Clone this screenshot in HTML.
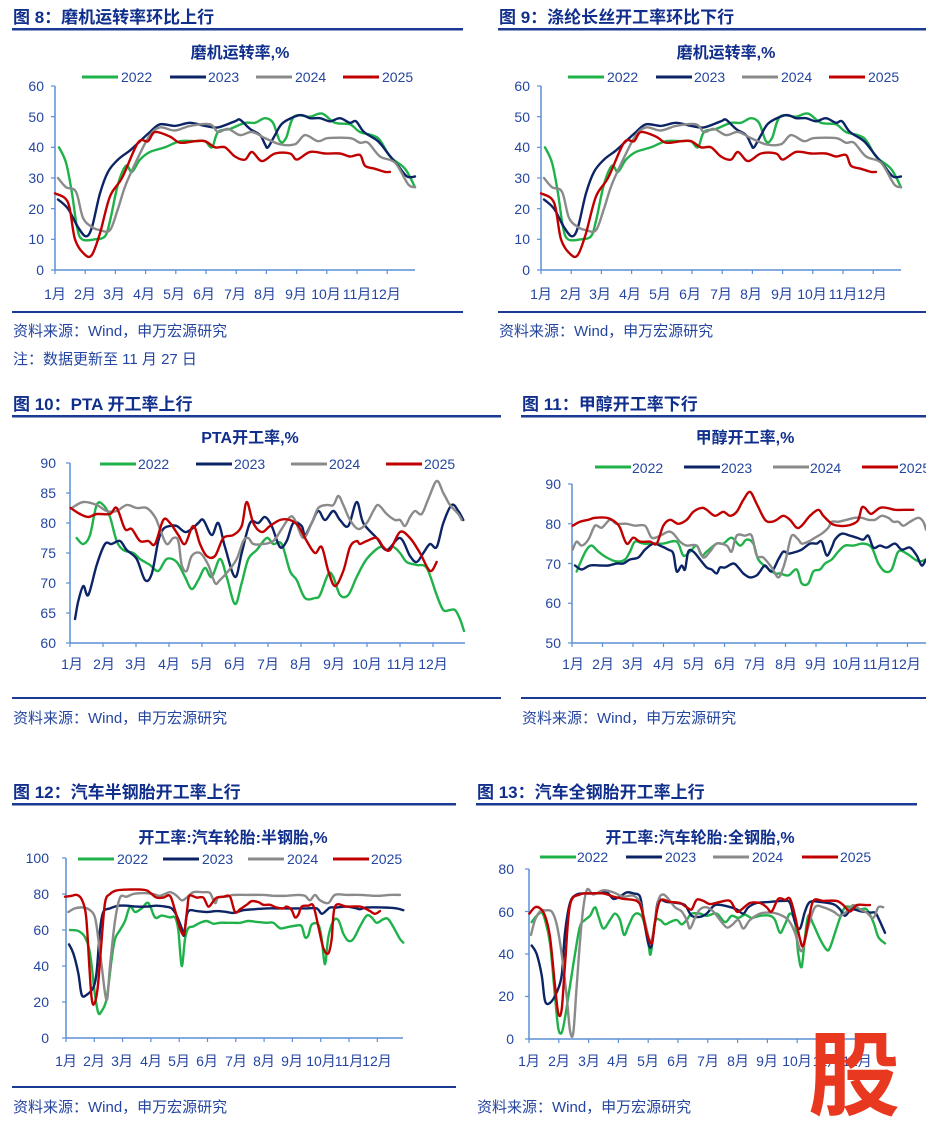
<!DOCTYPE html>
<html><head><meta charset="utf-8"><style>
html,body{margin:0;padding:0;background:#fff;}
svg{display:block;font-family:"Liberation Sans","Noto Sans CJK SC",sans-serif;}
.h{font-size:17px;font-weight:bold;fill:#102f8c;}
.ct{font-size:16px;font-weight:bold;fill:#102f8c;text-anchor:middle;}
.lg{font-size:14px;fill:#2446a0;}
.yt{font-size:14px;fill:#2446a0;text-anchor:end;}
.mt{font-size:14px;fill:#2446a0;text-anchor:middle;}
.src{font-size:15px;fill:#2446a0;}
</style></head><body>
<svg id="s" width="926" height="1135" viewBox="0 0 926 1135">
<!-- Fig 8 -->
<text class="h" x="13" y="23">图 8：磨机运转率环比上行</text>
<rect x="12" y="28" width="451" height="2.5" fill="#1a3a93"/>
<text class="ct" x="240" y="58">磨机运转率,%</text>
<text class="lg" x="121" y="82">2022</text><text class="lg" x="208" y="82">2023</text><text class="lg" x="295" y="82">2024</text><text class="lg" x="382" y="82">2025</text>
<text class="yt" x="44" y="91">60</text><text class="yt" x="44" y="122">50</text><text class="yt" x="44" y="152">40</text><text class="yt" x="44" y="183">30</text><text class="yt" x="44" y="214">20</text><text class="yt" x="44" y="244">10</text><text class="yt" x="44" y="275">0</text>
<g id="m8"></g>
<text class="mt" x="55" y="299">1月</text><text class="mt" x="85" y="299">2月</text><text class="mt" x="114" y="299">3月</text><text class="mt" x="144" y="299">4月</text><text class="mt" x="174" y="299">5月</text><text class="mt" x="204" y="299">6月</text><text class="mt" x="235" y="299">7月</text><text class="mt" x="265" y="299">8月</text><text class="mt" x="296" y="299">9月</text><text class="mt" x="326" y="299">10月</text><text class="mt" x="357" y="299">11月</text><text class="mt" x="386" y="299">12月</text>
<rect x="12" y="311" width="451" height="2" fill="#1a3a93"/>
<text class="src" x="13" y="336">资料来源：Wind，申万宏源研究</text>
<text class="src" x="13" y="364">注：数据更新至 11 月 27 日</text>

<!-- Fig 9 -->
<text class="h" x="499" y="23">图 9：涤纶长丝开工率环比下行</text>
<rect x="498" y="28" width="428" height="2.5" fill="#1a3a93"/>
<text class="ct" x="726" y="58">磨机运转率,%</text>
<text class="lg" x="607" y="82">2022</text><text class="lg" x="694" y="82">2023</text><text class="lg" x="781" y="82">2024</text><text class="lg" x="868" y="82">2025</text>
<text class="yt" x="530" y="91">60</text><text class="yt" x="530" y="122">50</text><text class="yt" x="530" y="152">40</text><text class="yt" x="530" y="183">30</text><text class="yt" x="530" y="214">20</text><text class="yt" x="530" y="244">10</text><text class="yt" x="530" y="275">0</text>
<text class="mt" x="541" y="299">1月</text><text class="mt" x="571" y="299">2月</text><text class="mt" x="600" y="299">3月</text><text class="mt" x="630" y="299">4月</text><text class="mt" x="660" y="299">5月</text><text class="mt" x="690" y="299">6月</text><text class="mt" x="721" y="299">7月</text><text class="mt" x="751" y="299">8月</text><text class="mt" x="782" y="299">9月</text><text class="mt" x="812" y="299">10月</text><text class="mt" x="843" y="299">11月</text><text class="mt" x="872" y="299">12月</text>
<rect x="498" y="311" width="428" height="2" fill="#1a3a93"/>
<text class="src" x="499" y="336">资料来源：Wind，申万宏源研究</text>

<!-- Fig 10 -->
<text class="h" x="13" y="410">图 10：PTA 开工率上行</text>
<rect x="12" y="415" width="489" height="2.5" fill="#1a3a93"/>
<text class="ct" x="250" y="443">PTA开工率,%</text>
<text class="lg" x="138" y="469">2022</text><text class="lg" x="234" y="469">2023</text><text class="lg" x="329" y="469">2024</text><text class="lg" x="424" y="469">2025</text>
<text class="yt" x="56" y="468">90</text><text class="yt" x="56" y="498">85</text><text class="yt" x="56" y="528">80</text><text class="yt" x="56" y="558">75</text><text class="yt" x="56" y="588">70</text><text class="yt" x="56" y="618">65</text><text class="yt" x="56" y="648">60</text>
<text class="mt" x="72" y="669">1月</text><text class="mt" x="104" y="669">2月</text><text class="mt" x="136" y="669">3月</text><text class="mt" x="169" y="669">4月</text><text class="mt" x="202" y="669">5月</text><text class="mt" x="235" y="669">6月</text><text class="mt" x="268" y="669">7月</text><text class="mt" x="301" y="669">8月</text><text class="mt" x="334" y="669">9月</text><text class="mt" x="367" y="669">10月</text><text class="mt" x="401" y="669">11月</text><text class="mt" x="433" y="669">12月</text>
<rect x="12" y="697" width="489" height="2" fill="#1a3a93"/>
<text class="src" x="13" y="723">资料来源：Wind，申万宏源研究</text>

<!-- Fig 11 -->
<text class="h" x="522" y="410">图 11：甲醇开工率下行</text>
<rect x="521" y="415" width="405" height="2.5" fill="#1a3a93"/>
<text class="ct" x="745" y="443">甲醇开工率,%</text>
<text class="lg" x="632" y="473">2022</text><text class="lg" x="721" y="473">2023</text><text class="lg" x="810" y="473">2024</text><text class="lg" x="899" y="473">2025</text>
<text class="yt" x="561" y="489">90</text><text class="yt" x="561" y="529">80</text><text class="yt" x="561" y="569">70</text><text class="yt" x="561" y="608">60</text><text class="yt" x="561" y="648">50</text>
<text class="mt" x="573" y="669">1月</text><text class="mt" x="603" y="669">2月</text><text class="mt" x="633" y="669">3月</text><text class="mt" x="664" y="669">4月</text><text class="mt" x="694" y="669">5月</text><text class="mt" x="725" y="669">6月</text><text class="mt" x="755" y="669">7月</text><text class="mt" x="786" y="669">8月</text><text class="mt" x="816" y="669">9月</text><text class="mt" x="847" y="669">10月</text><text class="mt" x="877" y="669">11月</text><text class="mt" x="906" y="669">12月</text>
<rect x="521" y="697" width="405" height="2" fill="#1a3a93"/>
<text class="src" x="522" y="723">资料来源：Wind，申万宏源研究</text>

<!-- Fig 12 -->
<text class="h" x="13" y="798">图 12：汽车半钢胎开工率上行</text>
<rect x="12" y="803" width="444" height="2.5" fill="#1a3a93"/>
<text class="ct" x="233" y="843">开工率:汽车轮胎:半钢胎,%</text>
<text class="lg" x="117" y="864">2022</text><text class="lg" x="202" y="864">2023</text><text class="lg" x="287" y="864">2024</text><text class="lg" x="371" y="864">2025</text>
<text class="yt" x="49" y="863">100</text><text class="yt" x="49" y="899">80</text><text class="yt" x="49" y="935">60</text><text class="yt" x="49" y="971">40</text><text class="yt" x="49" y="1007">20</text><text class="yt" x="49" y="1043">0</text>
<text class="mt" x="66" y="1066">1月</text><text class="mt" x="94" y="1066">2月</text><text class="mt" x="122" y="1066">3月</text><text class="mt" x="151" y="1066">4月</text><text class="mt" x="179" y="1066">5月</text><text class="mt" x="207" y="1066">6月</text><text class="mt" x="236" y="1066">7月</text><text class="mt" x="264" y="1066">8月</text><text class="mt" x="292" y="1066">9月</text><text class="mt" x="321" y="1066">10月</text><text class="mt" x="349" y="1066">11月</text><text class="mt" x="377" y="1066">12月</text>
<rect x="12" y="1086" width="444" height="2" fill="#1a3a93"/>
<text class="src" x="13" y="1112">资料来源：Wind，申万宏源研究</text>

<!-- Fig 13 -->
<text class="h" x="477" y="798">图 13：汽车全钢胎开工率上行</text>
<rect x="476" y="803" width="441" height="2.5" fill="#1a3a93"/>
<text class="ct" x="700" y="843">开工率:汽车轮胎:全钢胎,%</text>
<text class="lg" x="577" y="862">2022</text><text class="lg" x="665" y="862">2023</text><text class="lg" x="752" y="862">2024</text><text class="lg" x="840" y="862">2025</text>
<text class="yt" x="514" y="874">80</text><text class="yt" x="514" y="917">60</text><text class="yt" x="514" y="959">40</text><text class="yt" x="514" y="1001">20</text><text class="yt" x="514" y="1044">0</text>
<text class="mt" x="529" y="1066">1月</text><text class="mt" x="559" y="1066">2月</text><text class="mt" x="589" y="1066">3月</text><text class="mt" x="618" y="1066">4月</text><text class="mt" x="648" y="1066">5月</text><text class="mt" x="678" y="1066">6月</text><text class="mt" x="708" y="1066">7月</text><text class="mt" x="738" y="1066">8月</text><text class="mt" x="767" y="1066">9月</text><text class="mt" x="797" y="1066">10月</text><text class="mt" x="827" y="1066">11月</text><text class="mt" x="857" y="1066">12月</text>
<text class="src" x="477" y="1112">资料来源：Wind，申万宏源研究</text>
<text x="808" y="1108" font-size="92" font-weight="bold" fill="#e8381f" font-family="'Noto Sans CJK SC',sans-serif">股</text>
</svg>
<script>
var NS="http://www.w3.org/2000/svg",S=document.getElementById('s');
var C=['#1fb24a','#0c2466','#8a8a8a','#c00000'];
function el(t,a){var e=document.createElementNS(NS,t);for(var k in a)e.setAttribute(k,a[k]);S.insertBefore(e,S.lastElementChild);return e;}
function path(pts){var d='M'+pts[0][0]+','+pts[0][1];for(var i=0;i<pts.length-1;i++){var p0=pts[i-1]||pts[i],p1=pts[i],p2=pts[i+1],p3=pts[i+2]||p2;
d+=' C'+(p1[0]+(p2[0]-p0[0])/6).toFixed(1)+','+(p1[1]+(p2[1]-p0[1])/6).toFixed(1)+' '+(p2[0]-(p3[0]-p1[0])/6).toFixed(1)+','+(p2[1]-(p3[1]-p1[1])/6).toFixed(1)+' '+p2[0].toFixed(1)+','+p2[1].toFixed(1);}return d;}
function chart(o){
 // axes
 el('line',{x1:o.ax,y1:o.yTop,x2:o.ax,y2:o.yBot,stroke:'#5b8fd6','stroke-width':1.5});
 el('line',{x1:o.ax,y1:o.yBot,x2:o.axEnd,y2:o.yBot,stroke:'#5b8fd6','stroke-width':1.5});
 for(var i=0;i<o.ny;i++){var y=o.yTop+(o.yBot-o.yTop)*i/(o.ny-1);el('line',{x1:o.ax-4,y1:y,x2:o.ax,y2:y,stroke:'#5b8fd6','stroke-width':1.2});}
 for(var i=0;i<12;i++){var x=o.mx0+o.mdx*i;el('line',{x1:x,y1:o.yBot,x2:x,y2:o.yBot+4,stroke:'#5b8fd6','stroke-width':1.2});}
 // legend
 for(var i=0;i<4;i++)el('line',{x1:o.lg[i],y1:o.ly,x2:o.lg[i]+36,y2:o.ly,stroke:C[i],'stroke-width':3});
 var ppu=(o.yBot-o.yTop)/(o.vTop-o.vBot);
 for(var s=0;s<4;s++){var d=o.d[s];var pts=[];for(var i=0;i<d.length;i+=2){var x=o.px?d[i]:o.ox+d[i]/3;pts.push([x+(o.dx||0),o.yTop+(o.vTop-d[i+1])*ppu]);}
  el('path',{d:path(pts),fill:'none',stroke:C[s],'stroke-width':2.4,'stroke-linejoin':'round','stroke-linecap':'round'});}
}
var d8=[
[59,40,66,35,72,25,77,14,82,10,95,10,105,11,110,16,118,28,126,34,132,32,140,36,150,38.5,165,40,180,42,195,42,205,42,212,40,218,45,230,46,245,48,255,48,265,49.5,273,48,280,42,286,43,294,50,310,50,322,51,335,48,350,47.5,360,45,378,43,390,37,405,33,415,27],
[58,23,68,20,78,14,86,11,92,14,100,25,108,32,118,36,130,39,140,42,150,45,160,47.5,175,47,190,48,205,47,218,46.5,235,48.5,240,49,250,46,260,44,265,41,268,40,275,44,283,48,300,50.5,310,49.5,320,49.5,330,48.5,340,49.5,350,48,356,48.5,364,45,378,42,388,38,398,34,407,30.5,415,30.5],
[58,30,66,27,76,25.5,83,17,92,14,100,13,110,13,118,20,126,28,140,38,150,44,160,46.5,175,45.5,190,47,210,47.5,218,45,228,46,240,44,252,45,265,43,280,41,295,41,305,44,318,42,328,43,350,43,360,41.5,368,41.5,380,37,395,35,408,28,415,27],
[55,25,68,22,75,10,85,5,92,5,100,12,110,24,122,30,138,41.5,148,42,155,45,170,43.5,180,41.5,195,42,205,42,215,40,225,40,235,37,245,36,252,38.5,262,35.5,275,38,290,38,297,36,310,38.5,325,38,340,38,350,37,360,37.5,365,34,375,33,385,32,390,32]];
chart({px:1,ax:55,axEnd:415,yTop:86,yBot:270,vTop:60,vBot:0,ny:7,mx0:55,mdx:30.2,lg:[82,170,256,343],ly:77,d:d8});
chart({px:1,dx:486,ax:541,axEnd:901,yTop:86,yBot:270,vTop:60,vBot:0,ny:7,mx0:541,mdx:30.2,lg:[568,656,742,829],ly:77,d:d8});
chart({ox:0,ax:70,axEnd:465,yTop:463,yBot:643,vTop:90,vBot:60,ny:7,mx0:70,mdx:33,lg:[100,196,291,386],ly:464,d:[
[230,77.5,250,76.5,270,78,290,83,310,83,330,81,350,77,370,75.5,400,75,420,74,450,73,475,72,500,74,530,73.5,555,71,575,69,595,70.5,615,72.5,635,71,660,74,680,71,705,66.5,725,70,745,74,770,75.5,800,77.5,820,76.5,845,76.5,870,72,890,70.5,915,67.5,945,67.5,960,68,985,71.5,1000,71,1020,68,1045,68,1070,71,1100,74,1140,76,1160,75.5,1180,76,1200,75,1220,73.5,1250,73,1280,72.5,1310,68,1330,65.5,1350,65.5,1365,65.5,1380,64,1392,62],
[225,64,235,67,250,69.5,265,68,290,73,315,76.5,335,76.5,360,77,380,75.5,410,74,435,70.5,455,71.5,475,77,490,79,510,79.5,530,79.5,555,78.5,575,79,595,80,610,80.5,635,78,655,80,675,76,705,71,725,75,750,80,775,80,795,81,815,79.5,840,76,860,77,880,80,905,79.5,915,78,935,80,955,82,975,80.5,1000,82,1020,80.5,1045,79.5,1070,83.5,1090,80,1130,77.5,1160,75.5,1200,77.5,1230,74.5,1250,73.5,1270,75,1290,76.5,1310,76,1330,80,1355,83,1375,82,1390,80.5],
[215,82.5,250,83.5,290,83,320,82,350,82,380,83,410,82.5,440,82.5,465,81,480,79,500,76.5,520,77.5,535,77,545,73,560,72,575,74.5,600,75,625,73,645,70,660,70.5,685,72,710,74,730,77,745,77.5,760,76.5,790,76.5,820,77,845,79,870,81,885,80.5,910,77.5,935,80,955,82.5,980,83,1000,83,1015,84.5,1030,83,1050,80.5,1075,79,1100,80,1120,82,1135,83,1160,81.5,1185,80.5,1200,80.5,1215,79.5,1230,81,1245,82,1265,81.5,1285,84,1310,87,1330,85,1350,83,1375,81.5,1385,80.5],
[212,82.5,240,81.5,265,81,290,81.5,330,81.5,350,82.5,375,79,395,79,420,77,445,77,465,76.5,490,80.5,510,80,535,78,555,76.5,580,79.5,600,76.5,620,74.5,645,74.5,670,77.5,700,78,725,79.5,740,83.5,760,80,785,78.5,810,79.5,840,80.5,870,80.5,895,79.5,920,77,945,75,965,76,985,72,1005,69.5,1030,72,1050,76,1070,77,1080,76.5,1100,77,1130,77.5,1150,76,1170,75.5,1200,78.5,1230,77.5,1260,75,1290,72,1310,73.5]]});
chart({ox:520,ax:572,axEnd:926,yTop:484,yBot:643,vTop:90,vBot:50,ny:5,mx0:572,mdx:30.5,lg:[595,684,773,862],ly:467,d:[
[170,68,185,71,200,73.5,215,74.5,235,73,260,71.5,290,70.5,315,71,330,73,345,75.5,370,75,400,75,430,75,470,75.5,490,72,510,73,530,74.5,545,72,560,73,590,75,610,75,635,76.5,660,74.5,680,76,700,75,715,71,740,69,765,67.5,780,67.5,805,67,830,68.5,845,65,865,65,880,68,900,68.5,915,70,935,71,955,73,975,74.5,1000,74.5,1030,75,1055,74,1075,70,1095,68,1115,68.5,1135,73,1160,72.5,1185,71,1200,70.5,1218,71],
[165,69.5,185,68.5,210,69.5,240,69.5,265,69.5,290,70,310,70,330,71,355,71.5,375,73.5,400,75,420,74.5,445,73.5,460,72.5,470,68,485,69.5,495,68.5,505,73,520,73,540,71,560,69,575,68.5,590,67.5,600,69,615,69,640,70,655,69,670,67.5,690,66.5,710,67,720,68,735,69.5,755,68,775,71,790,73,805,72.5,830,73,845,73.5,870,75,890,75,905,75.5,920,72,935,74,945,76,965,77.5,990,77,1010,76.5,1030,76,1045,77,1060,74,1080,74.5,1100,74,1125,75,1145,73.5,1170,74,1190,72,1205,69.5,1218,71],
[158,73.5,170,75.5,185,74.5,205,76,225,79.5,245,79,270,81,290,80,320,80,345,79.5,375,79.5,395,76.5,420,77,445,78,460,77.5,480,75.5,500,74.5,530,74.5,550,71.5,570,73,590,75,620,74.5,635,73,650,77,675,77,695,77,710,72,730,71.5,755,69,775,66.5,790,69,800,72,815,77,835,76,845,75,865,75.5,885,76.5,905,77.5,925,79,935,80.5,955,80.5,980,81,1005,81.5,1025,81.5,1045,81,1065,81,1085,82,1105,81.5,1120,80.5,1135,80.5,1150,79.5,1170,80.5,1195,81.5,1210,80.5,1218,78.5],
[158,79.5,180,80.5,205,81,225,81.5,260,81.5,285,80.5,300,79,320,75,340,76.5,360,75.5,390,75.5,410,75,430,79.5,450,81,475,80,500,81,520,83,545,84,560,83.5,585,82,610,83,630,82,650,83,670,86,690,88,710,85,735,81,755,80.5,770,81,790,82,810,81,830,79,845,79.5,870,82,895,83.5,910,82,935,80,955,79.5,980,79.5,1000,80,1015,81,1025,84,1035,84,1045,83,1055,82.5,1080,84,1100,84,1125,83.5,1150,83.5,1180,83.5]]});
chart({ox:0,ax:66,axEnd:403,yTop:858,yBot:1038,vTop:100,vBot:0,ny:6,mx0:66,mdx:28.3,lg:[78,163,248,333],ly:859,d:[
[210,60,235,59.5,255,56,270,47,285,24,295,14,305,15,320,22,335,44,345,55,360,60,375,65,390,73,405,70,425,72,445,75,465,67,485,68,510,67,525,67,535,60,545,40,555,55,565,61,580,62,600,64,620,65,640,63.5,660,64,680,64,700,64,720,64,745,65,770,64.5,800,64,820,64,840,61,860,61.5,890,62.5,905,62,915,56,925,57,935,63,955,63,965,55,975,41,985,56,1000,65,1015,65.5,1030,58,1045,54,1060,55,1080,62,1100,68,1115,67,1130,64,1150,66,1165,66,1185,60,1200,55,1210,53],
[207,52,220,47,235,36,245,24,260,24,280,28,290,37,300,60,310,70,330,72,355,73.5,380,73.5,410,73,440,73,470,73.5,495,73,515,72,530,68,545,61,552,57,560,68,570,71,590,70.5,620,70,650,70.5,680,70,700,69.5,730,71,760,71.5,800,72,840,72,880,72,920,72,950,72,965,69,980,71,990,72.5,1010,72.5,1040,73,1070,72,1080,71.5,1100,72.5,1150,72.5,1190,72,1210,71],
[205,70,225,72,250,72.5,270,71,285,67,295,55,305,40,315,25,322,22,330,40,345,65,360,78,380,78.5,400,80,430,80.5,460,80,480,79,510,81,530,79,545,76.5,560,78,580,81,610,81,630,80.5,645,75,655,78,680,78.5,700,79.5,740,79.5,790,79.5,820,79,860,79,895,79.5,915,79,930,76.5,945,79.5,960,76.5,985,75,1005,79.5,1040,79.5,1080,79.5,1120,79,1140,79,1170,79.5,1200,79.5],
[195,78.5,215,79,230,79.5,245,77,258,68,268,40,275,22,283,19,293,28,303,50,315,75,330,80,350,82,390,82.5,420,82.5,440,82,455,80,470,78,490,78,510,79,525,71,540,61,552,58,562,72,568,79,590,78,610,78,625,73,640,76,650,78,670,78.5,690,78.5,705,70,720,71.5,740,74,755,76,775,75.5,790,74,810,74,830,72.5,850,72,860,73,875,71,885,67,895,68.5,905,73,925,73.5,940,73.5,955,62,970,50,985,47,995,55,1005,73,1040,73,1080,73,1095,72,1110,70.5,1125,69,1140,70.5]]});
chart({ox:470,ax:529,axEnd:885,yTop:869,yBot:1039,vTop:80,vBot:0,ny:5,mx0:529,mdx:29.8,lg:[540,626,713,802],ly:857,d:[
[185,55,200,58,215,59.5,225,56,240,45,255,20,265,5,275,3,285,10,300,25,315,40,330,53,345,56,360,58,375,62,385,58,400,52,420,56,435,59,450,56,462,49,475,53,490,58,505,59,520,56,535,45,542,40,555,55,570,56,585,54,600,55,620,56,635,54,650,56,665,59,690,59,710,58,740,59,765,55,785,58,805,57,825,58.5,845,57,870,58,900,58,915,56,930,50,945,54,960,59,975,55,985,40,995,34,1005,48,1015,58,1030,54,1050,47,1070,42,1080,43,1095,50,1110,57,1125,62,1145,62,1170,61,1190,61,1210,55,1225,48,1245,45],
[185,44,200,40,215,30,225,18,240,17,260,22,275,30,285,50,300,64,320,68,350,68.5,380,68.5,410,69,430,66,450,67,470,69,490,68.5,510,67,520,58,535,45,545,44,555,55,565,65,590,64.5,620,64,645,63,665,58,690,57.5,710,59,735,63,770,62.5,800,61,820,59,835,62,860,64,900,64.5,940,65,960,64,975,55,990,52,1005,60,1020,64.5,1050,64.5,1090,63.5,1110,61,1125,58,1145,61,1175,60,1200,59.5,1215,59.5,1225,57,1245,50],
[183,49,195,56,210,60,225,60.5,245,60,260,54,275,40,290,20,300,4,310,3,320,25,335,55,350,70,370,68,400,70,430,69,460,67,490,67.5,510,64,525,55,540,46,550,50,565,65,580,68,600,65,615,62,635,60,650,56,660,52,675,57,690,61,710,62,730,60,750,56,770,52.5,785,53.5,805,56,820,52,840,56,870,59,900,59.5,930,58.5,955,56,975,50,990,42,1000,43,1015,53,1035,62,1060,62,1090,60,1110,58,1130,60,1150,63,1170,61,1190,59.5,1210,57,1225,62,1240,62],
[178,59,195,62,210,61.5,225,58,240,48,255,25,265,12,275,14,285,35,300,63,330,68,360,68.5,400,68.5,430,67,460,66,500,65,515,61,530,50,545,45,555,55,570,65,600,64.5,630,64,650,62,665,61,680,65.5,700,65,720,63.5,750,64.5,780,65,800,60,815,61,840,64,870,64,890,62,905,60,925,66,945,65.5,960,66,975,58,990,47,1000,44,1015,55,1030,65,1060,65,1100,65,1120,63,1140,60,1160,63,1190,63,1200,63]]});
</script>
</body></html>
